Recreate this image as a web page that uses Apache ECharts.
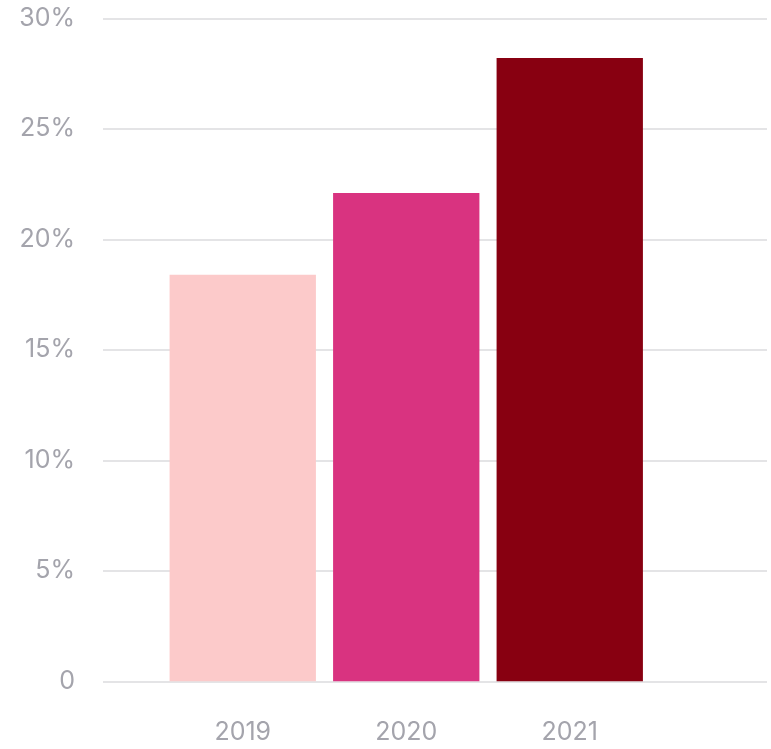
<!DOCTYPE html>
<html>
<head>
<meta charset="utf-8">
<script src="https://cdn.jsdelivr.net/npm/echarts@6/dist/echarts.min.js"></script>
<style>
  html, body { margin: 0; padding: 0; background: #fff; }
  #chart { width: 771px; height: 749px; }
</style>
</head>
<body>
<div id="chart"></div>
<script>
// data
const years = ['2019', '2020', '2021'];
const shares = [18.4, 22.1, 28.2];
const barColors = ['#fccaca', '#d93380', '#880011'];

const labelColor = '#a4a4ac';
const gridColor = '#e4e4e6';

const chart = echarts.init(document.getElementById('chart'));

chart.setOption({
  animation: false,
  // grid 0 carries the y axis and split lines, grid 1 the bars
  grid: [
    { left: 103, right: 4, top: 18.3, bottom: 67.7 },
    { left: 161, right: 119.5, top: 18.3, bottom: 67.7 }
  ],
  xAxis: [
    { gridIndex: 0, type: 'value', show: false, min: 0, max: 1 },
    {
      gridIndex: 1,
      type: 'category',
      data: years,
      axisLine: { show: false },
      axisTick: { show: false },
      axisLabel: {
        margin: 39,
        color: labelColor,
        fontFamily: 'Inter',
        fontSize: 25
      }
    }
  ],
  yAxis: [
    {
      gridIndex: 0,
      type: 'value',
      min: 0,
      max: 30,
      interval: 5,
      axisLine: { show: false },
      axisTick: { show: false },
      axisLabel: {
        margin: 28,
        color: labelColor,
        fontFamily: 'Inter',
        fontSize: 25,
        padding: [7, 0, 0, 0],
        formatter: v => v === 0 ? '0' : v + '%'
      },
      splitLine: { lineStyle: { color: gridColor, width: 2 } }
    },
    { gridIndex: 1, type: 'value', min: 0, max: 30, show: false }
  ],
  series: [
    {
      type: 'bar',
      xAxisIndex: 1,
      yAxisIndex: 1,
      barCategoryGap: '10.5%',
      data: shares.map((v, i) => ({ value: v, itemStyle: { color: barColors[i] } }))
    }
  ]
});
</script>
</body>
</html>
